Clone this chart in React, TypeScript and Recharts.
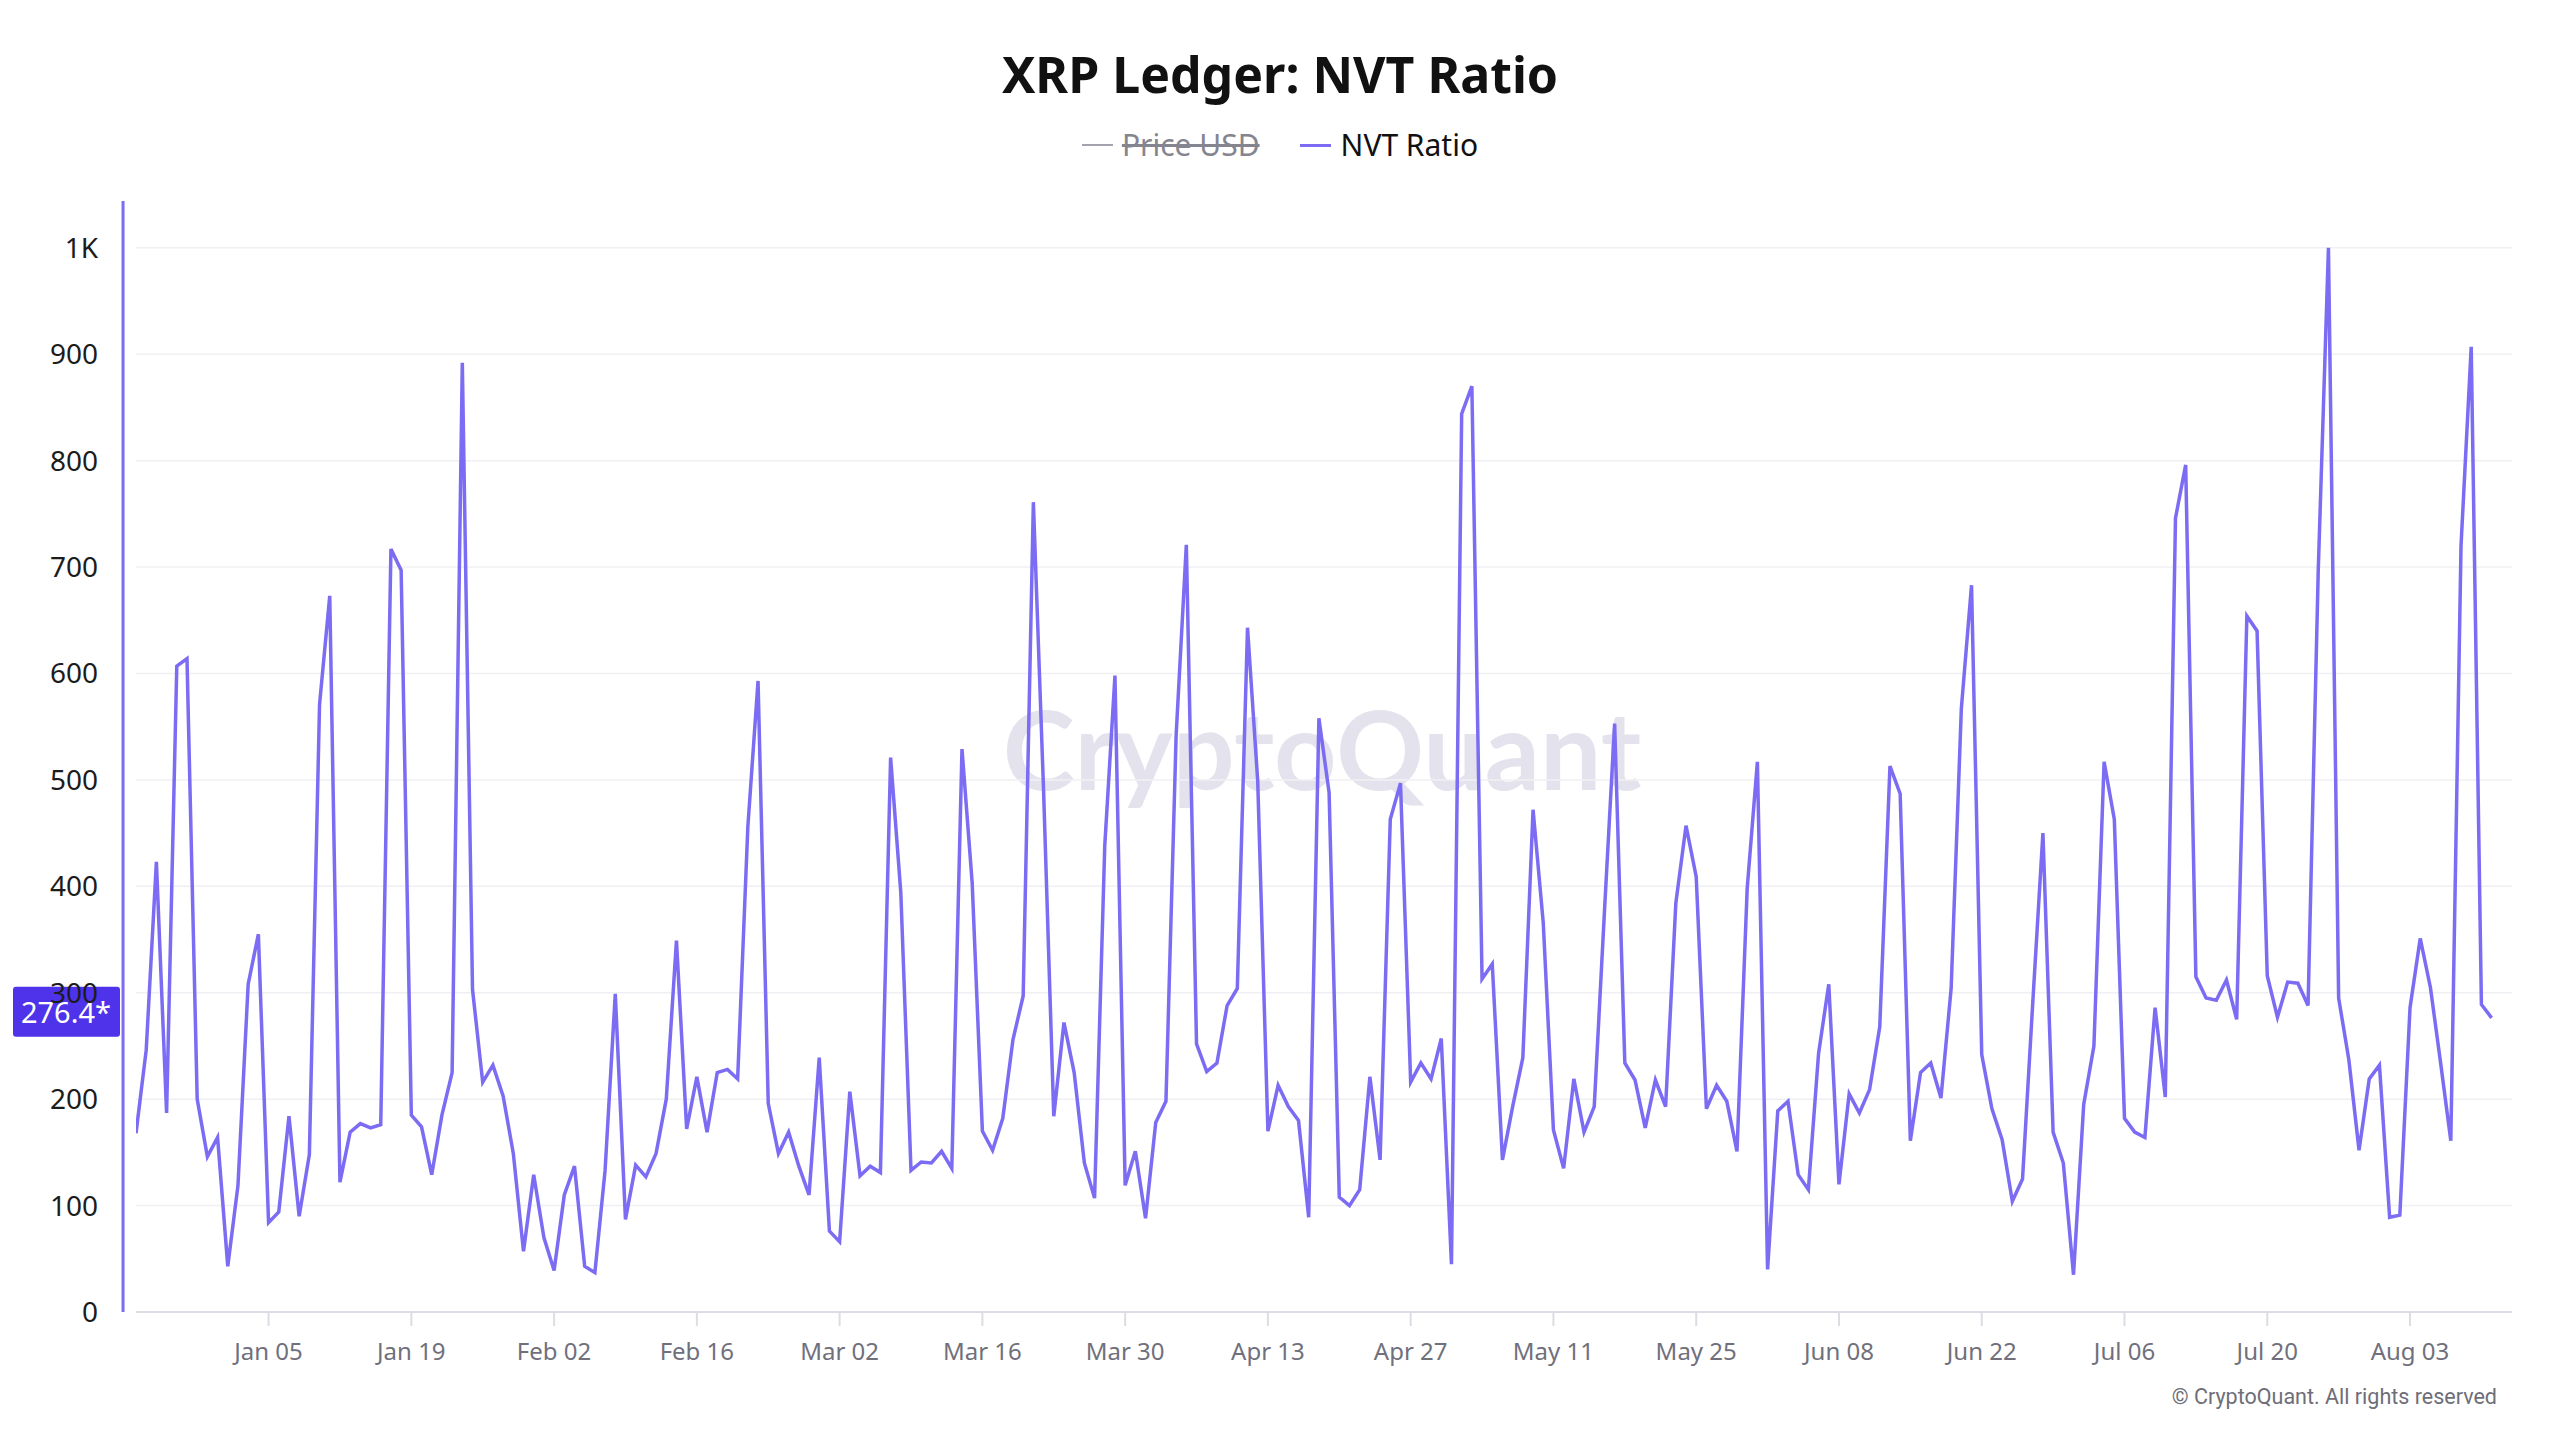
import React from 'react';
import { LineChart, Line, XAxis, YAxis, CartesianGrid, ReferenceLine } from 'recharts';

// ---------- data ----------
const START_YEAR = 2024;
const START_MONTH = 11; // December (0-based)
const START_DAY = 23;
const TICK_YEAR = 2025;

const NVT_RATIO: number[] = [
  168, 246, 423, 187, 607, 614, 200, 146, 164, 43,
  119, 308, 355, 84, 94, 184, 90, 148, 571, 673,
  122, 169, 177, 173, 176, 717, 697, 185, 174, 129,
  185, 225, 892, 303, 216, 232, 203, 149, 57, 129,
  70, 39, 110, 137, 43, 37, 133, 299, 87, 138,
  127, 149, 200, 349, 172, 221, 169, 225, 228, 219,
  456, 593, 196, 149, 169, 137, 110, 239, 76, 66,
  207, 128, 137, 131, 521, 394, 133, 141, 140, 151,
  135, 529, 403, 170, 152, 182, 256, 297, 761, 490,
  184, 272, 225, 140, 107, 438, 598, 119, 151, 88,
  178, 198, 542, 721, 252, 226, 234, 288, 304, 643,
  499, 170, 213, 193, 180, 89, 558, 488, 108, 100,
  115, 221, 143, 463, 497, 216, 234, 219, 257, 45,
  844, 870, 313, 327, 143, 193, 239, 472, 366, 171,
  135, 219, 169, 193, 376, 553, 234, 218, 173, 218,
  193, 384, 457, 409, 191, 213, 198, 151, 398, 517,
  40, 189, 198, 129, 115, 243, 308, 120, 205, 187,
  209, 268, 513, 487, 161, 225, 234, 201, 304, 567,
  683, 242, 191, 162, 104, 125, 290, 450, 169, 140,
  35, 195, 250, 517, 463, 182, 169, 164, 286, 202,
  746, 796, 315, 295, 293, 312, 275, 654, 640, 316,
  277, 310, 309, 288, 697, 1000, 295, 237, 152, 219,
  232, 89, 91, 286, 351, 305, 234, 161, 720, 907,
  289, 276.4,
];

const X_TICK_LABELS: string[] = [
  'Jan 05', 'Jan 19', 'Feb 02', 'Feb 16', 'Mar 02', 'Mar 16', 'Mar 30', 'Apr 13',
  'Apr 27', 'May 11', 'May 25', 'Jun 08', 'Jun 22', 'Jul 06', 'Jul 20', 'Aug 03',
];
const Y_TICKS: number[] = [0, 100, 200, 300, 400, 500, 600, 700, 800, 900, 1000];
const Y_DOMAIN_MAX = 1044;
const X_DOMAIN_DAYS = 233;
const LAST_VALUE = 276.4;
const LAST_VALUE_LABEL = '276.4*';

const TITLE = 'XRP Ledger: NVT Ratio';
const LEGEND_HIDDEN = 'Price USD';
const LEGEND_SERIES = 'NVT Ratio';
const WATERMARK = 'CryptoQuant';
const COPYRIGHT = '\u00A9 CryptoQuant. All rights reserved';

// ---------- derived ----------
const MONTHS = ['Jan', 'Feb', 'Mar', 'Apr', 'May', 'Jun', 'Jul', 'Aug', 'Sep', 'Oct', 'Nov', 'Dec'];
const DAY_MS = 86400000;
const START_MS = Date.UTC(START_YEAR, START_MONTH, START_DAY);

const chartData = NVT_RATIO.map((v, i) => ({ t: START_MS + i * DAY_MS, nvt: v }));

const xTicks = X_TICK_LABELS.map((lab) => {
  const [mon, day] = lab.split(' ');
  return Date.UTC(TICK_YEAR, MONTHS.indexOf(mon), parseInt(day, 10));
});

const fmtDate = (ms: number) => {
  const d = new Date(ms);
  return `${MONTHS[d.getUTCMonth()]} ${String(d.getUTCDate()).padStart(2, '0')}`;
};
const fmtY = (v: number) => (v >= 1000 ? `${v / 1000}K` : `${v}`);

const LINE_COLOR = '#7b6cf3';
const BADGE_COLOR = '#4f33ea';
const FONT = '"Noto Sans", "Open Sans", sans-serif';

const Badge = (props: any) => {
  const vb = props.viewBox || {};
  const cy = (vb.y ?? 0) - 6;
  return (
    <g>
      <rect x={13} y={cy - 25} width={107} height={50} rx={3} fill={BADGE_COLOR} />
      <text
        x={66}
        y={cy}
        textAnchor="middle"
        dominantBaseline="central"
        fill="#ffffff"
        fontSize={29}
        fontFamily={FONT}
      >
        {LAST_VALUE_LABEL}
      </text>
    </g>
  );
};

export default function App() {
  return (
    <div
      style={{
        position: 'absolute',
        left: 0,
        top: 0,
        width: 2560,
        height: 1440,
        background: '#ffffff',
        fontFamily: FONT,
        overflow: 'hidden',
      }}
    >
      {/* watermark */}
      <div
        style={{
          position: 'absolute',
          left: 1322 - 500,
          width: 1000,
          top: 748 - 65,
          height: 130,
          lineHeight: '130px',
          textAlign: 'center',
          fontFamily: 'Lato, sans-serif',
          fontWeight: 700,
          fontSize: 109,
          color: '#e4e2ec',
        }}
      >
        {WATERMARK}
      </div>

      {/* title */}
      <div
        style={{
          position: 'absolute',
          left: 0,
          width: 2560,
          top: 49,
          textAlign: 'center',
          fontSize: 50,
          lineHeight: '50px',
          fontWeight: 700,
          color: '#111111',
        }}
      >
        {TITLE}
      </div>

      {/* legend */}
      <div
        style={{
          position: 'absolute',
          left: 0,
          width: 2560,
          top: 127,
          height: 36,
          display: 'flex',
          justifyContent: 'center',
          alignItems: 'center',
          gap: 40,
          fontSize: 30,
          lineHeight: '36px',
        }}
      >
        <div style={{ display: 'flex', alignItems: 'center', gap: 9 }}>
          <span style={{ display: 'inline-block', width: 31, height: 2, background: '#a3a3ad' }} />
          <span style={{ color: '#85858f', textDecoration: 'line-through' }}>{LEGEND_HIDDEN}</span>
        </div>
        <div style={{ display: 'flex', alignItems: 'center', gap: 10 }}>
          <span style={{ display: 'inline-block', width: 31, height: 3, background: LINE_COLOR }} />
          <span style={{ color: '#111111' }}>{LEGEND_SERIES}</span>
        </div>
      </div>

      {/* chart */}
      <div style={{ position: 'absolute', left: 0, top: 0 }}>
        <LineChart
          width={2560}
          height={1440}
          data={chartData}
          margin={{ top: 201, right: 48, bottom: 68, left: 0 }}
        >
          <CartesianGrid
            vertical={false}
            horizontalValues={Y_TICKS}
            stroke="#f0f0f4"
            strokeWidth={1.5}
          />
          <XAxis
            dataKey="t"
            type="number"
            scale="linear"
            domain={[START_MS, START_MS + X_DOMAIN_DAYS * DAY_MS]}
            ticks={xTicks}
            tickFormatter={fmtDate}
            height={60}
            axisLine={{ stroke: '#dcdce4', strokeWidth: 2 }}
            tickLine={{ stroke: '#dcdce4', strokeWidth: 2 }}
            tickSize={14}
            tickMargin={17}
            tick={{ fontSize: 24, fill: '#70707c', fontFamily: FONT }}
            allowDataOverflow
          />
          <YAxis
            type="number"
            domain={[0, Y_DOMAIN_MAX]}
            ticks={Y_TICKS}
            tickFormatter={fmtY}
            width={136}
            axisLine={false}
            tickLine={false}
            tickSize={0}
            tickMargin={38}
            tick={{ fontSize: 28, fill: '#1c1c1c', fontFamily: FONT }}
            allowDataOverflow
          />
          <ReferenceLine
            segment={[
              { x: START_MS - 1.27 * DAY_MS, y: 0 },
              { x: START_MS - 1.27 * DAY_MS, y: Y_DOMAIN_MAX },
            ]}
            stroke={LINE_COLOR}
            strokeWidth={3}
            ifOverflow="visible"
          />
          <Line
            type="linear"
            dataKey="nvt"
            stroke={LINE_COLOR}
            strokeWidth={3.5}
            dot={false}
            activeDot={false}
            isAnimationActive={false}
          />
          <ReferenceLine
            y={LAST_VALUE}
            stroke="none"
            ifOverflow="visible"
            label={<Badge />}
          />
        </LineChart>
      </div>

      {/* copyright */}
      <div
        style={{
          position: 'absolute',
          right: 2560 - 2497,
          top: 1397 - 15,
          height: 30,
          lineHeight: '30px',
          fontFamily: 'Roboto, sans-serif',
          fontSize: 21.5,
          color: '#6e6e78',
          whiteSpace: 'nowrap',
        }}
      >
        {COPYRIGHT}
      </div>
    </div>
  );
}
